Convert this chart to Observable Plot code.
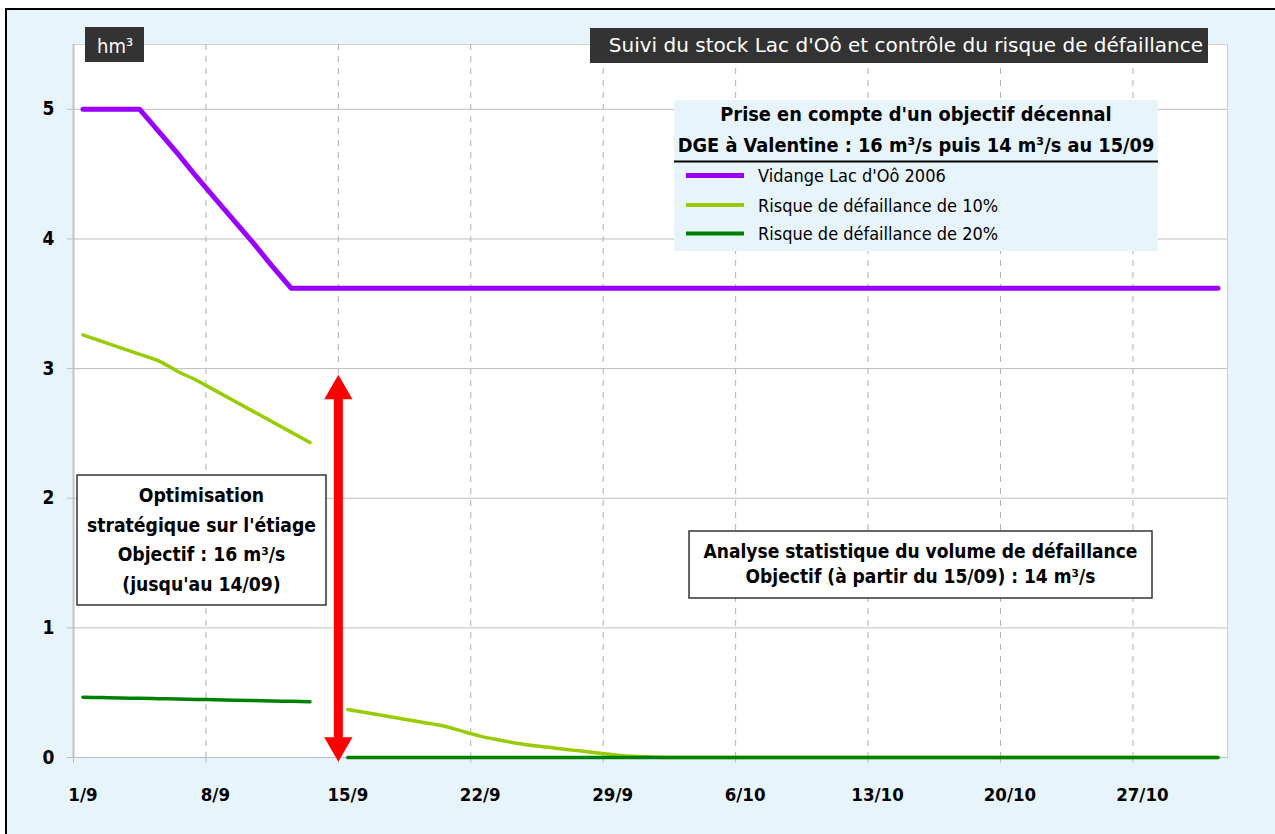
<!DOCTYPE html>
<html>
<head>
<meta charset="utf-8">
<script src="https://cdn.jsdelivr.net/npm/d3@7"></script>
<script src="https://cdn.jsdelivr.net/npm/@observablehq/plot@0.6"></script>
<style>
  html, body { margin: 0; padding: 0; background: #ffffff; }
  #wrap { position: relative; width: 1275px; height: 834px; overflow: hidden; }
  #panel { position: absolute; left: 5px; top: 8px; right: -10px; bottom: -10px;
           background: #e8f4fc; border-left: 2.5px solid #000; border-top: 2px solid #000; }
  #chart { position: absolute; left: 0; top: 0; }
</style>
</head>
<body>
<div id="wrap"><div id="panel"></div><div id="chart"></div></div>
<script>
// ---- Daily values, 1 September to 31 October 2006 (hm³) ----
// Storage of Lac d'Oô (drawdown 2006)
const vidange = [
  5.00, 5.00, 5.00, 5.00, 4.83, 4.66, 4.48, 4.31, 4.14, 3.97,
  3.79, 3.62, 3.62, 3.62, 3.62, 3.62, 3.62, 3.62, 3.62, 3.62,
  3.62, 3.62, 3.62, 3.62, 3.62, 3.62, 3.62, 3.62, 3.62, 3.62,
  3.62, 3.62, 3.62, 3.62, 3.62, 3.62, 3.62, 3.62, 3.62, 3.62,
  3.62, 3.62, 3.62, 3.62, 3.62, 3.62, 3.62, 3.62, 3.62, 3.62,
  3.62, 3.62, 3.62, 3.62, 3.62, 3.62, 3.62, 3.62, 3.62, 3.62,
  3.62
];
// Volume needed for a 10% failure risk (no value on 14/09)
const risque10 = [
  3.26, 3.21, 3.16, 3.11, 3.06, 2.98, 2.91, 2.83, 2.75, 2.67,
  2.59, 2.51, 2.43, null, 0.37, 0.345, 0.32, 0.295, 0.27, 0.245,
  0.205, 0.165, 0.135, 0.108, 0.088, 0.072, 0.055, 0.038, 0.022, 0.010,
  0.003, 0, 0, 0, 0, 0, 0, 0, 0, 0,
  0, 0, 0, 0, 0, 0, 0, 0, 0, 0,
  0, 0, 0, 0, 0, 0, 0, 0, 0, 0,
  0
];
// Volume needed for a 20% failure risk (no value on 14/09)
const risque20 = [
  0.465, 0.462, 0.459, 0.457, 0.454, 0.451, 0.448, 0.445, 0.442, 0.439,
  0.436, 0.433, 0.430, null, 0, 0, 0, 0, 0, 0,
  0, 0, 0, 0, 0, 0, 0, 0, 0, 0,
  0, 0, 0, 0, 0, 0, 0, 0, 0, 0,
  0, 0, 0, 0, 0, 0, 0, 0, 0, 0,
  0, 0, 0, 0, 0, 0, 0, 0, 0, 0,
  0
];

// Axis ticks
const weekTicks = ["2006-09-01", "2006-09-08", "2006-09-15", "2006-09-22", "2006-09-29",
                   "2006-10-06", "2006-10-13", "2006-10-20", "2006-10-27"].map(d => new Date(d));
const yTicks = [0, 1, 2, 3, 4, 5];

// Double arrow marking the change of objective on 15/09
const arrowDay = new Date("2006-09-15");
const arrowSpan = [0, 2.95];

const seriesColors = { vidange: "#9900ff", r10: "#99cc00", r20: "#008000" };
const legendItems = [
  { label: "Vidange Lac d'Oô 2006", color: seriesColors.vidange, width: 5 },
  { label: "Risque de défaillance de 10%", color: seriesColors.r10, width: 4 },
  { label: "Risque de défaillance de 20%", color: seriesColors.r20, width: 4 }
];

// ---- Table: one row per day, plotted at midday ----
const start = new Date(Date.UTC(2006, 8, 1));
const end = new Date(Date.UTC(2006, 10, 1));
const days = d3.utcDay.range(start, end);
const table = days.map((d, i) => ({
  date: d3.utcHour.offset(d, 12),
  vidange: vidange[i],
  r10: risque10[i],
  r20: risque20[i]
}));
const labelDates = weekTicks.map(d => d3.utcHour.offset(d, 12));

const COND = "'DejaVu Sans Condensed', 'DejaVu Sans', sans-serif";
const WIDE = "'DejaVu Sans', sans-serif";
const gridGray = "#bdbdbd";

const chart = Plot.plot({
  width: 1275,
  height: 834,
  marginLeft: 73,
  marginRight: 48,
  marginTop: 44,
  marginBottom: 77,
  style: { background: "transparent", fontFamily: COND, fontStretch: "condensed", color: "#000", overflow: "visible" },
  x: { type: "utc", domain: [start, end] },
  y: { domain: [0, 5.5] },
  marks: [
    Plot.frame({ fill: "white", stroke: "#d0d0d0" }),
    // dashed weekly grid
    Plot.ruleX(weekTicks.slice(1), { stroke: "#b0b0b0", strokeDasharray: "6,6" }),
    // horizontal grid, reaching into the tick area on the left
    Plot.ruleY(yTicks, { stroke: gridGray, insetLeft: -6 }),
    Plot.ruleX([start], { stroke: "#c4c4c4", strokeWidth: 2 }),
    // tick marks below the date axis
    Plot.axisX(weekTicks, { tickSize: 6, stroke: gridGray, tickFormat: () => "", label: null }),
    // date labels centred on their day
    Plot.axisX(labelDates, {
      tickSize: 0, tickPadding: 30, tickFormat: d3.utcFormat("%-d/%-m"), label: null,
      fontSize: 18.5, fontWeight: "bold", fill: "#000"
    }),
    Plot.axisY(yTicks, {
      tickSize: 0, tickPadding: 19, tickFormat: d3.format("d"), label: null,
      fontSize: 19, fontWeight: "bold", fill: "#000"
    }),
    // series
    Plot.line(table, { x: "date", y: "vidange", stroke: seriesColors.vidange, strokeWidth: 5,
      strokeLinecap: "round", strokeLinejoin: "round" }),
    Plot.line(table, { x: "date", y: "r10", stroke: seriesColors.r10, strokeWidth: 3.5,
      curve: "monotone-x", strokeLinecap: "round", strokeLinejoin: "round" }),
    Plot.line(table, { x: "date", y: "r20", stroke: seriesColors.r20, strokeWidth: 3.5,
      curve: "monotone-x", strokeLinecap: "round", strokeLinejoin: "round" }),
    // red double arrow: shaft (y1 = upper end) and two heads
    Plot.ruleX([arrowDay], { y1: arrowSpan[1], y2: arrowSpan[0], stroke: "#ff0000", strokeWidth: 9,
      insetTop: 18, insetBottom: 12 }),
    Plot.dot([arrowDay], { x: d => d, y: () => arrowSpan[1], symbol: "triangle", r: 10.5,
      fill: "#ff0000", stroke: "none", dy: 16 }),
    Plot.dot([arrowDay], { x: d => d, y: () => arrowSpan[0], symbol: "triangle", r: 10.5, rotate: 180,
      fill: "#ff0000", stroke: "none", dy: -12 })
  ]
});
document.getElementById("chart").appendChild(chart);

// ---- Annotations: unit tag, title, legend and the two explanatory boxes ----
const svg = d3.select(chart);
const ann = svg.append("g").attr("class", "annotations");

function addText(g, x, y, str, { size = 18, weight = "normal", anchor = "start", fill = "#000", family = COND } = {}) {
  return g.append("text")
    .attr("x", x).attr("y", y)
    .attr("text-anchor", anchor)
    .attr("fill", fill)
    .style("font-family", family)
    .style("font-stretch", family === COND ? "condensed" : "normal")
    .style("font-size", size + "px")
    .style("font-weight", weight)
    .text(str);
}

// unit tag
ann.append("rect").attr("x", 85).attr("y", 27).attr("width", 59).attr("height", 35).attr("fill", "#333333");
addText(ann, 97, 53, "hm³", { size: 20, fill: "#fff" });

// title
ann.append("rect").attr("x", 590).attr("y", 28).attr("width", 618).attr("height", 35).attr("fill", "#333333");
addText(ann, 1203, 52, "Suivi du stock Lac d'Oô et contrôle du risque de défaillance",
  { size: 20, anchor: "end", fill: "#fff", family: WIDE });

// legend
const lg = ann.append("g");
lg.append("rect").attr("x", 674).attr("y", 100).attr("width", 484).attr("height", 151).attr("fill", "#e8f4fc");
addText(lg, 916, 121, "Prise en compte d'un objectif décennal", { size: 19.8, weight: "bold", anchor: "middle" });
addText(lg, 916, 151.5, "DGE à Valentine : 16 m³/s puis 14 m³/s au 15/09", { size: 19.8, weight: "bold", anchor: "middle" });
lg.append("line").attr("x1", 674).attr("x2", 1158).attr("y1", 161.5).attr("y2", 161.5)
  .attr("stroke", "#000").attr("stroke-width", 2);
const rowY = [175.5, 205, 233.5];
legendItems.forEach((item, i) => {
  lg.append("line").attr("x1", 686).attr("x2", 744).attr("y1", rowY[i]).attr("y2", rowY[i])
    .attr("stroke", item.color).attr("stroke-width", item.width);
  addText(lg, 758, rowY[i] + 6.5, item.label, { size: 18 });
});

// box: optimisation up to 14/09
const b1 = ann.append("g");
b1.append("rect").attr("x", 77).attr("y", 475).attr("width", 249).attr("height", 130)
  .attr("fill", "#fff").attr("stroke", "#333").attr("stroke-width", 1.5);
["Optimisation", "stratégique sur l'étiage", "Objectif : 16 m³/s", "(jusqu'au 14/09)"].forEach((s, i) => {
  addText(b1, 201.5, 502 + i * 29.7, s, { size: 19.2, weight: "bold", anchor: "middle" });
});

// box: statistical analysis from 15/09
const b2 = ann.append("g");
b2.append("rect").attr("x", 689).attr("y", 531).attr("width", 463).attr("height", 67)
  .attr("fill", "#fff").attr("stroke", "#333").attr("stroke-width", 1.5);
["Analyse statistique du volume de défaillance", "Objectif (à partir du 15/09) : 14 m³/s"].forEach((s, i) => {
  addText(b2, 920.5, 558 + i * 25, s, { size: 19, weight: "bold", anchor: "middle" });
});
</script>
</body>
</html>
